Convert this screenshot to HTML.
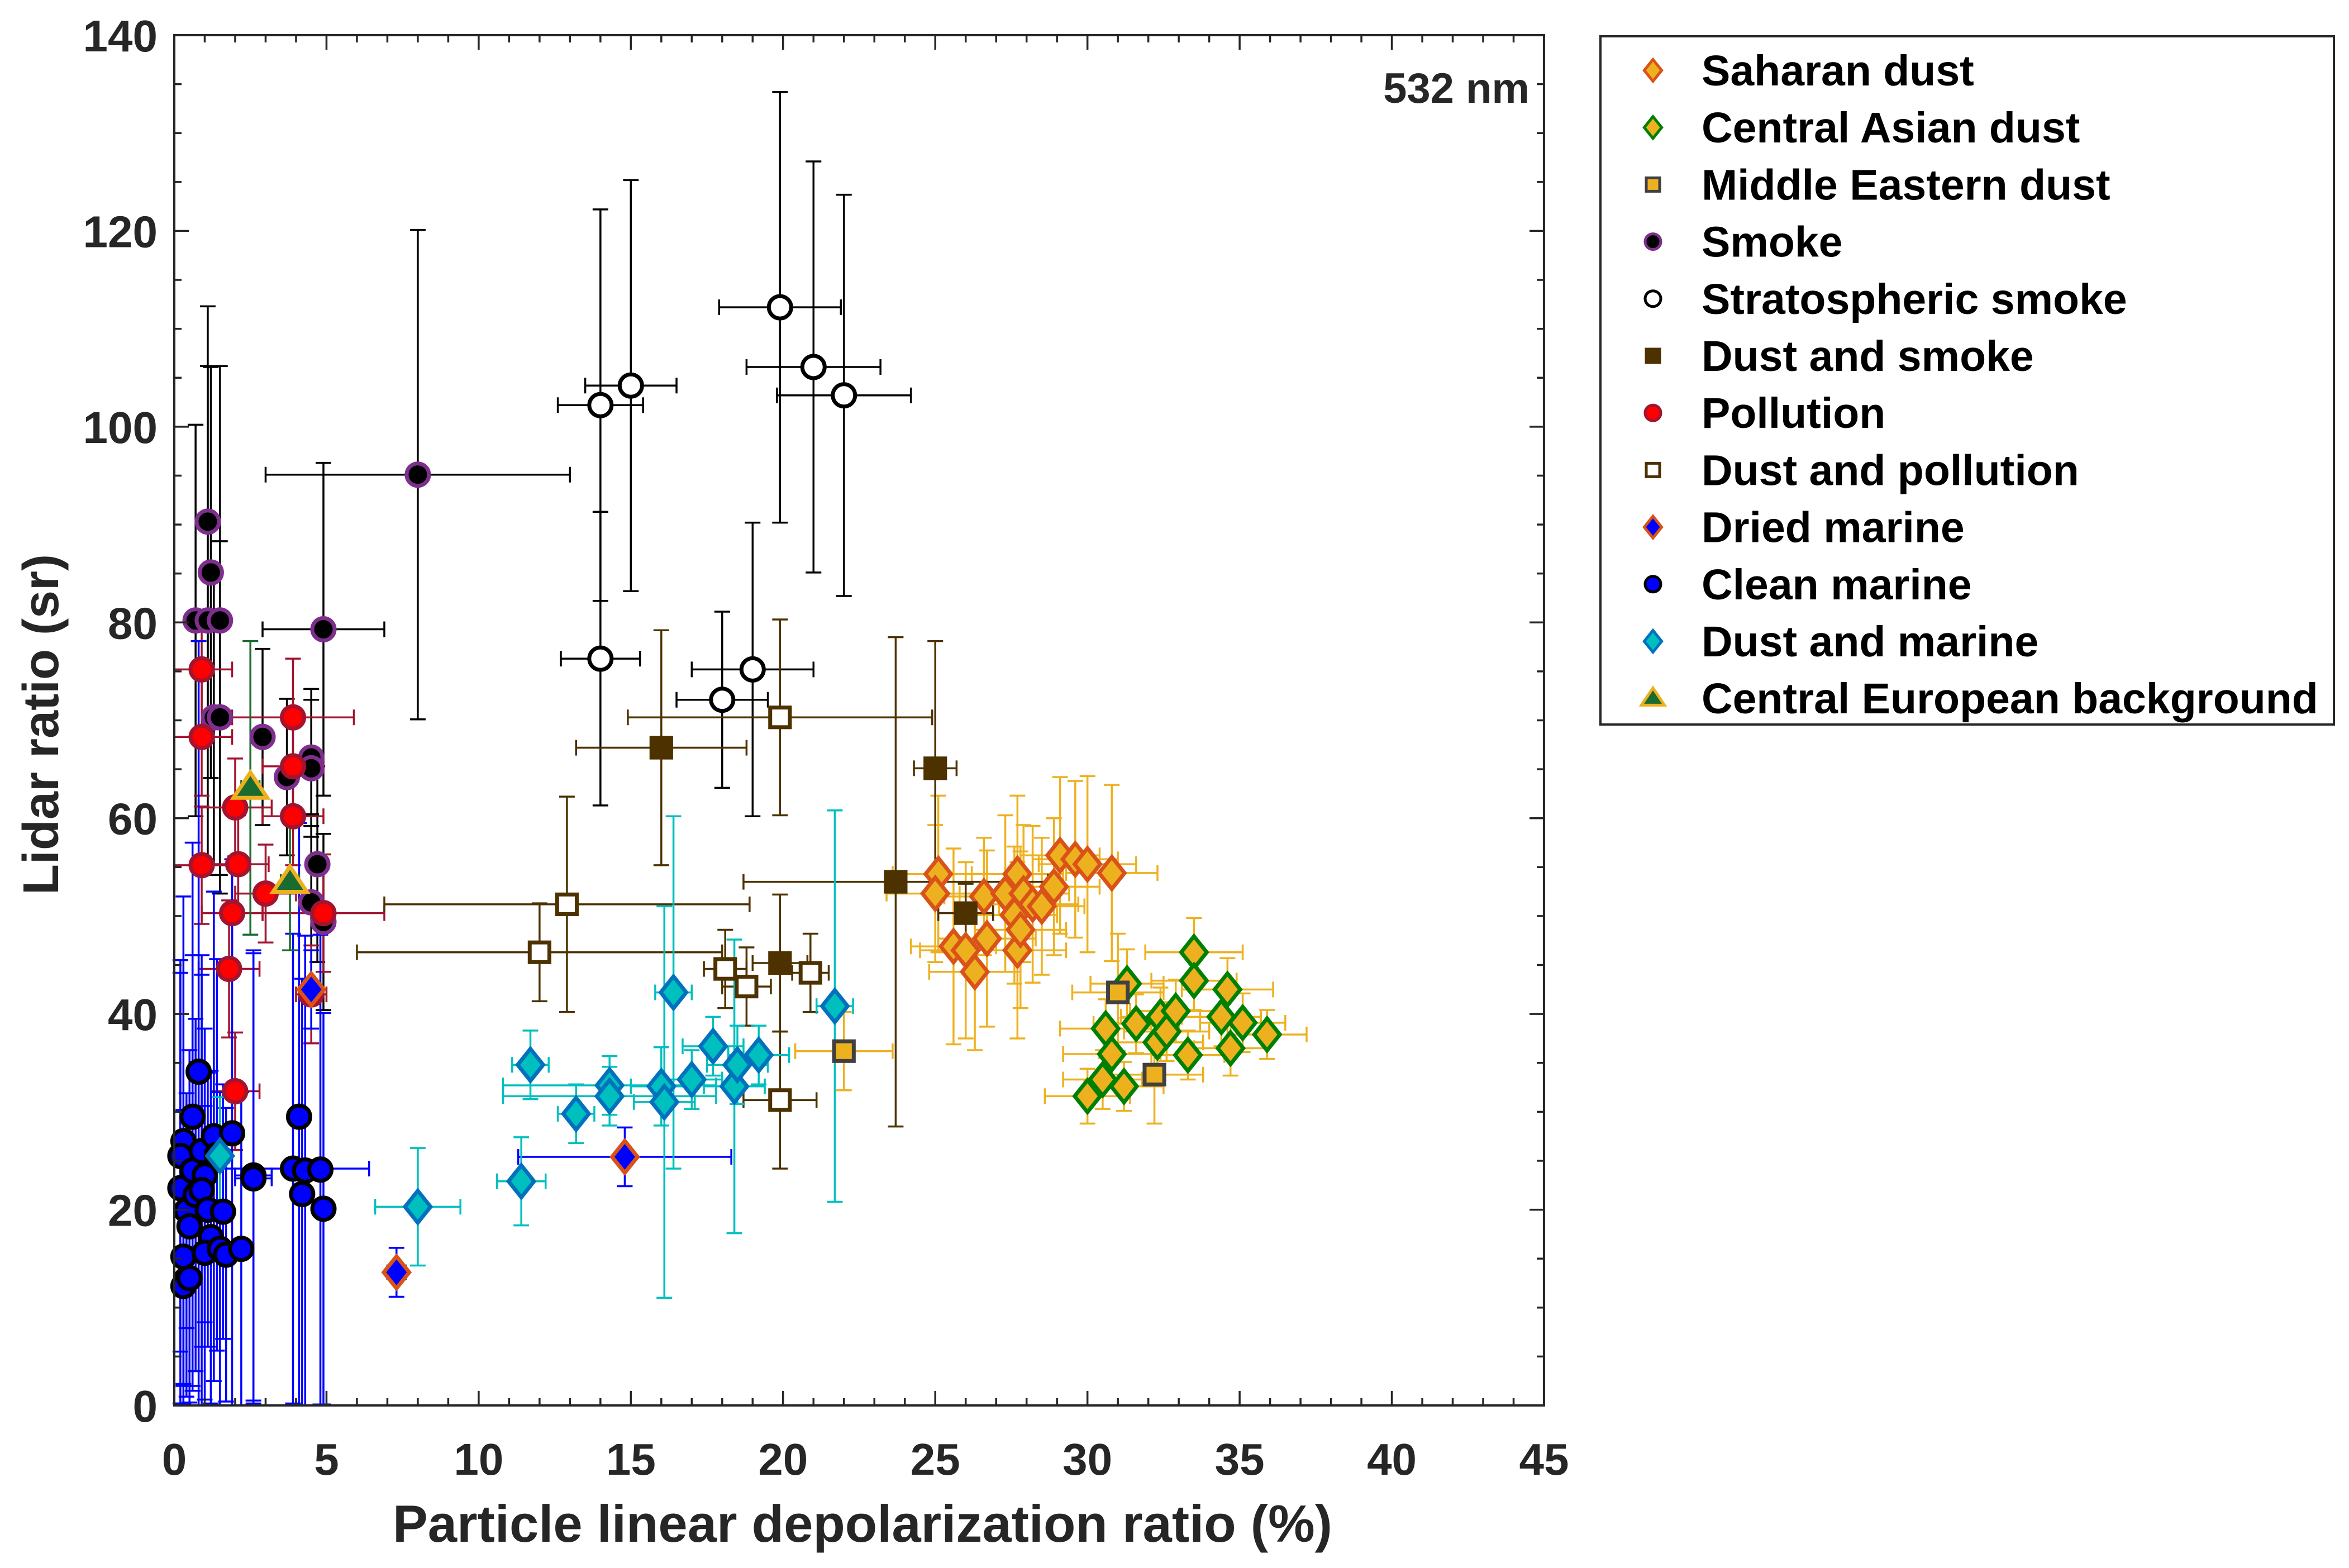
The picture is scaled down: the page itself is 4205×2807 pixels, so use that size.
<!DOCTYPE html>
<html><head><meta charset="utf-8"><style>
html,body{margin:0;padding:0;background:#fff;}
svg{display:block;font-family:"Liberation Sans",Arial,sans-serif;}
</style></head><body>
<svg id="chart" width="4205" height="2807" viewBox="0 0 4205 2807" xmlns="http://www.w3.org/2000/svg">
<rect width="4205" height="2807" fill="#fff"/>
<g id="bars"></g><g id="marks"></g><g id="axes"></g><g id="legend"></g>
</svg>
<script>
// ---------- data ----------
const xTicks = [0,5,10,15,20,25,30,35,40,45];
const yTicks = [0,20,40,60,80,100,120,140];

const saharanX = [25.1,25.0,25.6,26.0,26.3,26.6,26.7,27.3,27.6,27.7,27.7,27.9,28.2,28.5,28.9,29.1,29.6,30.0,30.8,27.8];
const saharanY = [54.3,52.3,46.9,46.5,44.3,52.0,47.7,52.3,50.1,54.3,46.5,52.3,51.2,51.0,53.0,56.2,55.8,55.3,54.4,48.6];
const saharanXe = [1.5,1.6,1.4,1.5,1.5,1.3,1.6,1.5,1.4,1.5,1.6,1.5,1.5,1.4,1.5,1.3,1.4,1.6,1.5,1.5];
const saharanYe = [8,7,10,9,8,6,9,8,7,8,9,7,8,7,7,8,8,9,9,8];

const casiaX = [30.0,30.5,30.6,30.8,31.2,31.3,31.6,32.3,32.4,32.6,32.9,33.3,33.5,33.5,34.4,34.6,34.7,35.1,35.9];
const casiaY = [31.6,33.3,38.5,35.9,32.6,43.1,39.0,37.1,39.7,38.2,40.3,35.8,46.3,43.4,39.7,42.5,36.5,39.1,37.9];
const casiaXe = [1.4,1.3,1.5,1.6,1.3,1.2,1.4,1.5,1.3,1.4,1.5,1.2,1.6,1.4,1.3,1.5,1.2,1.4,1.3];
const casiaYe = [2.8,3,3,3.2,2.5,3.5,3,2.8,3,3,3.2,2.5,3.5,3,3,3.2,2.8,3,2.5];

const meX = [31.0,32.2,22.0];
const meY = [42.2,33.8,36.2];
const meXe = [1.5,1.6,1.6];
const meYe = [6,5,4];

const smokeX = [0.7,1.1,1.2,1.1,1.5,1.3,1.5,2.9,3.7,4.5,4.5,4.7,4.5,4.9,4.9,8.0];
const smokeY = [80.2,90.3,85.1,80.2,80.2,70.3,70.3,68.3,64.2,66.2,65.1,55.3,51.4,49.4,79.3,95.1];
const smokeXe = [0.2,0.3,0.3,0.2,0.3,0.3,0.3,0.3,0.3,0.3,0.3,0.3,0.3,0.3,2.0,5.0];
const smokeYe = [20,22,21,26,26,15,18,9,8,7,7,10,9,9,17,25];

const stratX = [14.0,15.0,19.9,21.0,22.0,14.0,18.0,19.0];
const stratY = [102.2,104.2,112.2,106.1,103.2,76.3,72.1,75.2];
const stratXe = [1.4,1.5,2.0,2.2,2.2,1.3,1.5,2.0];
const stratYe = [20,21,22,21,20.5,15,9,15];

const dsX = [16.0,25.0,23.7,26.0,19.9];
const dsY = [67.2,65.1,53.5,50.3,45.2];
const dsXe = [2.8,0.7,5.0,0.9,0.9];
const dsYe = [12,13,25,3,7];

const pollX = [0.9,0.9,0.9,2.0,2.1,1.9,1.8,2.0,3.0,3.9,3.9,3.9,4.9,4.5];
const pollY = [75.2,68.3,55.2,61.1,55.3,50.3,44.6,32.1,52.3,70.3,65.3,60.2,50.3,42.0];
const pollXe = [1.0,1.0,1.0,1.2,1.0,1.0,1.0,0.8,1.0,2.0,1.0,1.0,2.0,0.5];
const pollYe = [6,6,6,5,5,5,7,6,5,6,5,5,6,5];

const dpX = [12.0,12.9,18.1,18.8,20.9,19.9,19.9];
const dpY = [46.3,51.2,44.6,42.8,44.2,70.3,31.2];
const dpXe = [6.0,6.0,0.7,0.8,0.6,5.0,1.2];
const dpYe = [5,11,4,4,4,10,7];

const driedX = [4.5,14.8,7.3];
const driedY = [42.5,25.4,13.6];
const driedXe = [0.3,3.5,0.3];
const driedYe = [4,3,2.5];

const cleanX = [0.3,0.2,0.2,0.4,0.5,0.3,0.4,0.3,0.6,0.7,0.6,0.8,0.9,1.0,0.9,1.1,1.2,1.0,1.3,1.4,1.5,1.6,1.7,1.9,2.2,2.6,2.6,4.1,3.9,4.2,4.3,4.8,4.9,0.5];
const cleanY = [27.0,25.5,22.2,19.9,18.3,15.2,12.9,12.2,24.0,21.5,29.5,34.1,26.0,23.5,22.0,20.0,17.2,15.6,27.5,25.6,16.0,19.8,15.4,27.8,16.0,23.5,23.2,29.5,24.2,21.6,24.0,24.1,20.1,13.0];
const cleanXe = [0.2,0.2,0.2,0.2,0.3,0.2,0.2,0.2,0.3,0.3,0.3,0.3,0.3,0.3,0.3,0.3,0.3,0.3,0.3,0.3,0.3,0.3,0.3,0.3,0.3,0.6,0.6,0.3,2.5,0.3,0.3,0.3,0.3,0.2];
const cleanYe = [25,20,22,12,18,15,12,10,22,18,28,44,20,15,22,14,17,15,25,20,16,13,15,28,16,23,23,30,24,22,24,24,20,13];

const dmX = [1.5,8.0,11.7,11.4,13.2,14.3,14.3,16.0,16.1,16.4,17.0,17.7,18.4,18.5,19.2,21.7];
const dmY = [25.5,20.3,34.8,22.9,29.8,32.7,31.6,32.6,31.0,42.2,33.3,36.7,32.6,34.8,35.8,40.8];
const dmXe = [0.3,1.4,0.6,0.8,0.6,3.5,3.5,1.0,1.0,0.6,1.0,1.0,1.0,1.0,1.0,0.6];
const dmYe = [6,6,3.5,4.5,3,3,3,4,20,18,3,3,15,4,3,20];

const ceX = [2.5,3.8];
const ceY = [63.1,53.5];
const ceXe = [0.3,0.3];
const ceYe = [15,7];

// ---------- scales ----------
const L=312,R=2764,T=63,B=2516;
function X(v){return L+v*(R-L)/45;}
function Y(v){return B-v*(B-T)/140;}
const NS="http://www.w3.org/2000/svg";
function el(tag,attrs,parent){const e=document.createElementNS(NS,tag);for(const k in attrs)e.setAttribute(k,attrs[k]);parent.appendChild(e);return e;}
const gBars=document.getElementById('bars'),gMarks=document.getElementById('marks'),gAxes=document.getElementById('axes'),gLeg=document.getElementById('legend');

function markerShape(shape,cx,cy,s,fill,stroke,sw,parent){
  let e;
  if(shape==='circle'){e=el('circle',{cx:cx,cy:cy,r:s,fill:fill,stroke:stroke,'stroke-width':sw},parent);}
  else if(shape==='diamond'){const d=s*1.3;e=el('polygon',{points:`${cx},${cy-d} ${cx+d*0.8},${cy} ${cx},${cy+d} ${cx-d*0.8},${cy}`,fill:fill,stroke:stroke,'stroke-width':sw},parent);}
  else if(shape==='square'){const d=s*0.8;e=el('rect',{x:cx-d,y:cy-d,width:2*d,height:2*d,fill:fill,stroke:stroke,'stroke-width':sw},parent);}
  else {const d=s*1.25;e=el('polygon',{points:`${cx},${cy-d} ${cx+d*1.1},${cy+d*0.65} ${cx-d*1.1},${cy+d*0.65}`,fill:fill,stroke:stroke,'stroke-width':sw},parent);}
  return e;
}

const series=[
 {name:'saharan-dust',label:'Saharan dust',x:saharanX,y:saharanY,xe:saharanXe,ye:saharanYe,shape:'diamond',fill:'#EDB120',stroke:'#D95319',ec:'#EDB120'},
 {name:'central-asian-dust',label:'Central Asian dust',x:casiaX,y:casiaY,xe:casiaXe,ye:casiaYe,shape:'diamond',fill:'#EDB120',stroke:'#008000',ec:'#EDB120'},
 {name:'middle-eastern-dust',label:'Middle Eastern dust',x:meX,y:meY,xe:meXe,ye:meYe,shape:'square',fill:'#EDB120',stroke:'#404040',ec:'#EDB120'},
 {name:'smoke',label:'Smoke',x:smokeX,y:smokeY,xe:smokeXe,ye:smokeYe,shape:'circle',fill:'#000',stroke:'#7E2F8E',ec:'#000'},
 {name:'stratospheric-smoke',label:'Stratospheric smoke',x:stratX,y:stratY,xe:stratXe,ye:stratYe,shape:'circle',fill:'#fff',stroke:'#000',ec:'#000'},
 {name:'dust-and-smoke',label:'Dust and smoke',x:dsX,y:dsY,xe:dsXe,ye:dsYe,shape:'square',fill:'#4D3200',stroke:'#4D3200',ec:'#4D3200'},
 {name:'pollution',label:'Pollution',x:pollX,y:pollY,xe:pollXe,ye:pollYe,shape:'circle',fill:'#FF0000',stroke:'#A2142F',ec:'#A2142F'},
 {name:'dust-and-pollution',label:'Dust and pollution',x:dpX,y:dpY,xe:dpXe,ye:dpYe,shape:'square',fill:'#fff',stroke:'#4D3200',ec:'#4D3200'},
 {name:'dried-marine',label:'Dried marine',x:driedX,y:driedY,xe:driedXe,ye:driedYe,shape:'diamond',fill:'#0000FF',stroke:'#D95319',ec:'#0000FF'},
 {name:'clean-marine',label:'Clean marine',x:cleanX,y:cleanY,xe:cleanXe,ye:cleanYe,shape:'circle',fill:'#0000FF',stroke:'#000',ec:'#0000FF'},
 {name:'dust-and-marine',label:'Dust and marine',x:dmX,y:dmY,xe:dmXe,ye:dmYe,shape:'diamond',fill:'#00BFBF',stroke:'#0072BD',ec:'#00BFBF'},
 {name:'central-european-background',label:'Central European background',x:ceX,y:ceY,xe:ceXe,ye:ceYe,shape:'triangle',fill:'#1A6B30',stroke:'#EDB120',ec:'#1A6B30'}
];

function clampY(v){return Math.max(0,v);}
series.forEach(s=>{
  const gb=el('g',{},gBars);
  
  
  const gm=el('g',{},gMarks);
  
  
  for(let i=0;i<s.x.length;i++){
    const cx=X(s.x[i]),cy=Y(s.y[i]);
    const y0=Y(clampY(s.y[i]-s.ye[i])),y1=Y(s.y[i]+s.ye[i]);
    const x0=X(Math.max(0,s.x[i]-s.xe[i])),x1=X(s.x[i]+s.xe[i]);
    const st={stroke:s.ec,'stroke-width':3.5,fill:'none'};
    el('line',Object.assign({x1:cx,y1:y0,x2:cx,y2:y1},st),gb);
    el('line',Object.assign({x1:cx-14,y1:y0,x2:cx+14,y2:y0},st),gb);
    el('line',Object.assign({x1:cx-14,y1:y1,x2:cx+14,y2:y1},st),gb);
    el('line',Object.assign({x1:x0,y1:cy,x2:x1,y2:cy},st),gb);
    el('line',Object.assign({x1:x0,y1:cy-14,x2:x0,y2:cy+14},st),gb);
    el('line',Object.assign({x1:x1,y1:cy-14,x2:x1,y2:cy+14},st),gb);
    const m=markerShape(s.shape,cx,cy,s.shape==='circle'?20:22,s.fill,s.stroke,7,gm);
    
    
  }
});

// ---------- axes ----------
el('rect',{x:L,y:T,width:R-L,height:B-T,fill:'none',stroke:'#262626','stroke-width':4},gAxes);
for(let v=0;v<=45;v+=1){
  const major=v%5===0,len=major?26:13,x=X(v);
  el('line',{x1:x,y1:B,x2:x,y2:B-len,stroke:'#262626','stroke-width':3.5},gAxes);
  el('line',{x1:x,y1:T,x2:x,y2:T+len,stroke:'#262626','stroke-width':3.5},gAxes);
}
for(let v=0;v<=140;v+=5){
  const major=v%20===0,len=major?26:13,y=Y(v);
  el('line',{x1:L,y1:y,x2:L+len,y2:y,stroke:'#262626','stroke-width':3.5},gAxes);
  el('line',{x1:R,y1:y,x2:R-len,y2:y,stroke:'#262626','stroke-width':3.5},gAxes);
}
xTicks.forEach(v=>{
  const t=el('text',{x:X(v),y:2640,'text-anchor':'middle','font-size':80,'font-weight':'bold',fill:'#262626'},gAxes);
  t.textContent=v;
  
  
});
yTicks.forEach(v=>{
  const t=el('text',{x:282,y:Y(v)+29,'text-anchor':'end','font-size':80,'font-weight':'bold',fill:'#262626'},gAxes);
  t.textContent=v;
  
  
});

// ---------- legend ----------
series.forEach((s,i)=>{
  const cy=126+i*102.2;
  const g=el('g',{},gLeg);
  
  
  markerShape(s.shape,2959,cy,s.shape==='circle'?14:15,s.fill,s.stroke,5,g);
  const t=el('text',{x:3046,y:cy+27,'font-size':77,'font-weight':'bold',fill:'#000'},g);
  t.textContent=s.label;
});
</script>
<script>
(function(){
  const svg=document.getElementById('chart');
  const NS="http://www.w3.org/2000/svg";
  const r=document.createElementNS(NS,'rect');
  r.setAttribute('x',2865);r.setAttribute('y',65);r.setAttribute('width',1313);r.setAttribute('height',1232);
  r.setAttribute('fill','none');r.setAttribute('stroke','#262626');r.setAttribute('stroke-width',4);
  
  
  svg.insertBefore(r,document.getElementById('legend'));
  const add=(txt,x,y,size,name,anchor,rot)=>{
    const t=document.createElementNS(NS,'text');
    t.setAttribute('x',x);t.setAttribute('y',y);t.setAttribute('font-size',size);t.setAttribute('font-weight','bold');
    t.setAttribute('fill','#262626');t.setAttribute('text-anchor',anchor);
    if(rot)t.setAttribute('transform',rot);
    
    
    t.textContent=txt;svg.appendChild(t);
  };
  add('Particle linear depolarization ratio (%)',1544,2760,94,'x-axis-title','middle');
  add('Lidar ratio (sr)',0,0,90,'y-axis-title','middle','translate(104,1297) rotate(-90)');
  add('532 nm',2738,184,76,'wavelength-label','end');
})();
</script>
</body></html>
